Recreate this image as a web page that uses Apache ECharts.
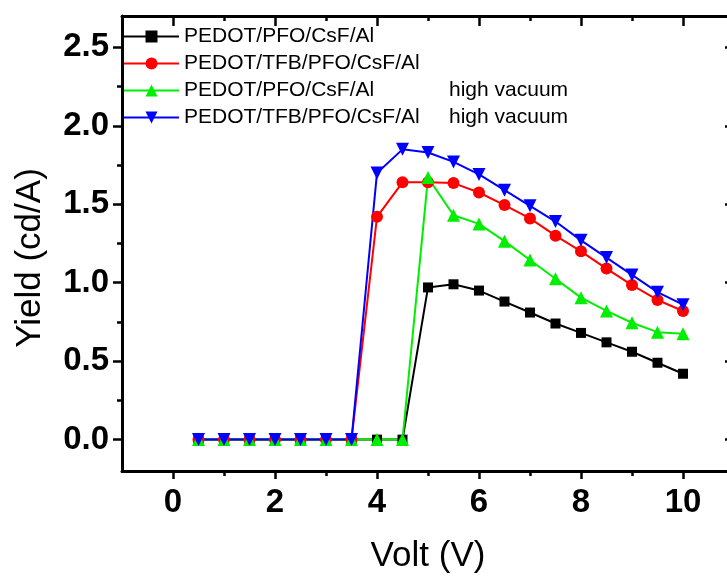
<!DOCTYPE html>
<html>
<head>
<meta charset="utf-8">
<script src="https://cdn.jsdelivr.net/npm/echarts@6/dist/echarts.min.js"></script>
<style>
  html, body { margin: 0; padding: 0; background: #fff; }
  #main { width: 727px; height: 577px; }
</style>
</head>
<body>
<div id="main"></div>
<script>
var myChart = echarts.init(document.getElementById('main'));

var volts = [0.5, 1, 1.5, 2, 2.5, 3, 3.5, 4, 4.5, 5, 5.5, 6, 6.5, 7, 7.5, 8, 8.5, 9, 9.5, 10];
var pfo = [0, 0, 0, 0, 0, 0, 0, 0, 0, 0.97, 0.99, 0.95, 0.88, 0.81, 0.74, 0.68, 0.62, 0.56, 0.49, 0.42];
var tfbPfo = [0, 0, 0, 0, 0, 0, 0, 1.42, 1.64, 1.64, 1.635, 1.575, 1.495, 1.41, 1.30, 1.20, 1.09, 0.985, 0.89, 0.82];
var pfoVac = [0, 0, 0, 0, 0, 0, 0, 0, 0, 1.67, 1.43, 1.375, 1.265, 1.145, 1.025, 0.905, 0.82, 0.745, 0.685, 0.675];
var tfbPfoVac = [0, 0, 0, 0, 0, 0, 0, 1.70, 1.85, 1.83, 1.77, 1.69, 1.59, 1.49, 1.39, 1.27, 1.16, 1.05, 0.94, 0.86];

var devices = ['PEDOT/PFO/CsF/Al', 'PEDOT/TFB/PFO/CsF/Al', 'PEDOT/PFO/CsF/Al', 'PEDOT/TFB/PFO/CsF/Al'];
var conditions = ['', '', 'high vacuum', 'high vacuum'];
var xMajor = [0, 2, 4, 6, 8, 10];
var xMinor = [1, 3, 5, 7, 9];
var yMajor = [0, 0.5, 1, 1.5, 2, 2.5];
var yMinor = [0.25, 0.75, 1.25, 1.75, 2.25];

var names = devices.map(function (d, i) {
    return conditions[i] ? d + ' ' + conditions[i] : d;
});

function pairs(ys) {
    return volts.map(function (v, i) { return [v, ys[i]]; });
}

var font = "'Liberation Sans', Arial, sans-serif";

// one axis per tick set: major/minor, bottom/top, left/right
function xAx(pos, ticks, len, inside, showLine, labels) {
    return {
        type: 'value', position: pos, min: -1, max: 11,
        axisLine: { show: showLine, onZero: false, lineStyle: { color: '#000', width: 3 } },
        axisTick: { customValues: ticks, length: len, inside: inside, lineStyle: { color: '#000', width: 2.5 } },
        axisLabel: labels ? {
            customValues: ticks, margin: 15, color: '#000',
            fontFamily: font, fontWeight: 'bold', fontSize: 33
        } : { show: false },
        splitLine: { show: false }
    };
}
function yAx(pos, ticks, len, inside, showLine, labels) {
    return {
        type: 'value', position: pos, min: -0.2, max: 2.7,
        axisLine: { show: showLine, onZero: false, lineStyle: { color: '#000', width: 3 } },
        axisTick: { customValues: ticks, length: len, inside: inside, lineStyle: { color: '#000', width: 2.5 } },
        axisLabel: labels ? {
            customValues: ticks, margin: 13, color: '#000',
            fontFamily: font, fontWeight: 'bold', fontSize: 33,
            formatter: function (v) { return v.toFixed(1); }
        } : { show: false },
        splitLine: { show: false }
    };
}

var xAxes = [
    xAx('bottom', xMajor, 8, false, true, true),
    xAx('bottom', xMinor, 5, false, false, false),
    xAx('top', xMajor, 10, true, true, false),
    xAx('top', xMinor, 5, true, false, false)
];
xAxes[0].name = 'Volt (V)';
xAxes[0].nameLocation = 'middle';
xAxes[0].nameGap = 68;
xAxes[0].nameTextStyle = { fontFamily: font, fontSize: 35, color: '#000' };

var yAxes = [
    yAx('left', yMajor, 9, false, true, true),
    yAx('left', yMinor, 5, false, false, false),
    yAx('right', yMajor, 9, true, false, false),
    yAx('right', yMinor, 5, true, false, false)
];
yAxes[0].name = 'Yield (cd/A)';
yAxes[0].nameLocation = 'middle';
yAxes[0].nameGap = 74;
yAxes[0].nameTextStyle = { fontFamily: font, fontSize: 35, color: '#000', padding: [0, 29, 0, 0] };

var colors = ['#000000', '#ff0000', '#00ee00', '#0000ff'];
var symbols = ['rect', 'circle', 'triangle', 'triangle'];
var sizes = [10, 12, 13, 13];
var rotates = [0, 0, 0, 180];
var values = [pfo, tfbPfo, pfoVac, tfbPfoVac];

var option = {
    backgroundColor: '#ffffff',
    animation: false,
    color: colors,
    grid: { left: 122, right: -7, top: 16, bottom: 106, containLabel: false, outerBoundsMode: 'none' },
    legend: {
        orient: 'vertical',
        left: 123,
        top: 26,
        padding: 0,
        itemWidth: 55,
        itemHeight: 15,
        itemGap: 6,
        data: names,
        formatter: function (name) {
            var i = names.indexOf(name);
            return '{a|' + devices[i] + '}' + (conditions[i] ? '{b|' + conditions[i] + '}' : '');
        },
        textStyle: {
            fontFamily: font, fontSize: 21, color: '#000', lineHeight: 21,
            rich: {
                a: { fontFamily: font, fontSize: 21, color: '#000', width: 265 },
                b: { fontFamily: font, fontSize: 21, color: '#000' }
            }
        }
    },
    xAxis: xAxes,
    yAxis: yAxes,
    series: values.map(function (ys, i) {
        return {
            name: names[i],
            type: 'line',
            xAxisIndex: 0,
            yAxisIndex: 0,
            data: pairs(ys),
            symbol: symbols[i],
            symbolSize: sizes[i],
            symbolRotate: rotates[i],
            showAllSymbol: true,
            lineStyle: { width: 2, color: colors[i] },
            itemStyle: { color: colors[i] }
        };
    })
};

myChart.setOption(option);
</script>
</body>
</html>
